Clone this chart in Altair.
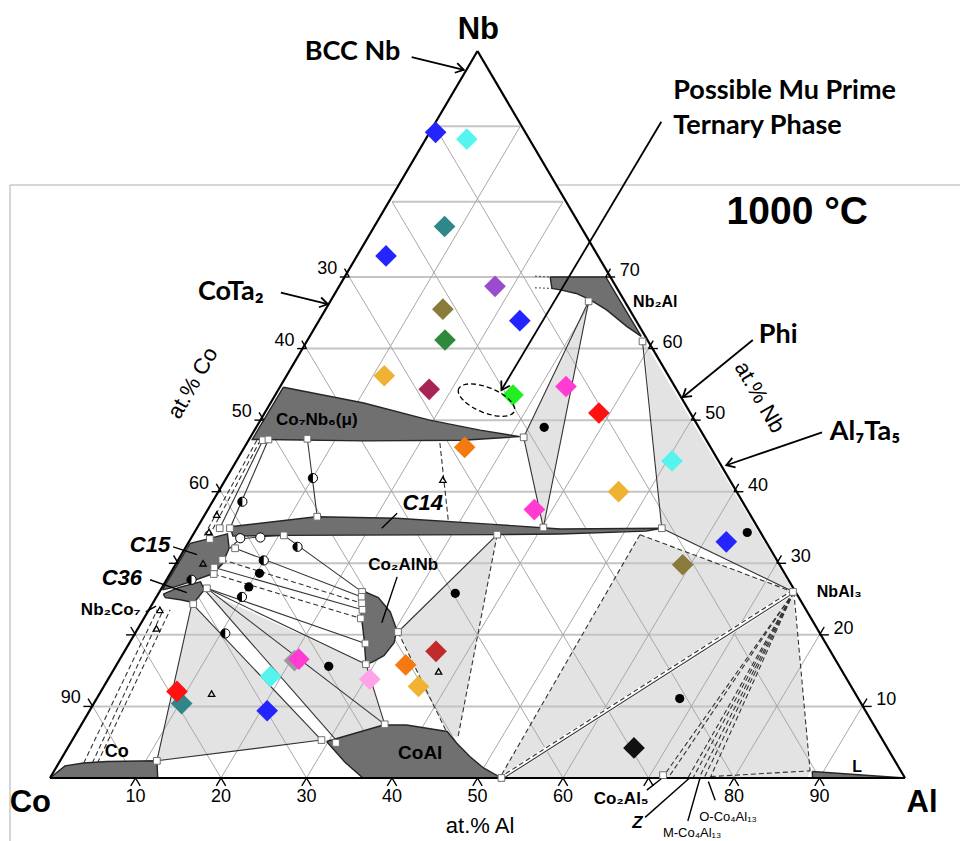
import altair as alt
import pandas as pd

# ------------------------------------------------------------------
# Co-Al-Nb isothermal section, 1000 C.
# Compositions are (at.% Al, at.% Nb); at.% Co is the balance.
# Annotation anchors are in chart coordinates (X = Al + Nb/2, Y = Nb).
# ------------------------------------------------------------------

# single-phase fields (dark)
FIELD_NB2AL = [(23.5, 70.0), (30.0, 70.0), (38.3, 61.7), (35.9, 63.1), (32.4, 65.4),
               (29.8, 66.8), (27.7, 67.7), (25.6, 68.2), (24.5, 68.4)]
FIELD_MU = [(0.0, 54.6), (10.5, 52.4), (19.4, 50.0), (26.0, 48.6), (31.1, 47.7),
            (24.7, 47.2), (13.1, 47.1), (1.3, 47.3), (0.0, 47.3)]
FIELD_C14 = [(3.5, 35.1), (12.9, 36.5), (22.4, 36.3), (34.6, 35.4), (42.3, 34.8), (54.1, 34.9),
             (52.5, 34.5), (42.6, 34.1), (35.3, 34.0), (10.4, 33.9), (4.5, 33.8)]
FIELD_C15 = [(0.0, 26.3), (0.0, 32.8), (1.5, 33.3), (3.7, 34.1), (4.9, 32.1), (5.2, 29.9),
             (4.7, 28.5), (2.7, 27.4), (1.0, 26.6)]
FIELD_C36 = [(0.4, 25.7), (1.7, 26.6), (3.9, 27.4), (4.9, 26.3), (4.6, 24.5), (2.8, 24.9), (0.9, 25.2)]
FIELD_CO2ALNB = [(23.1, 26.3), (25.8, 25.2), (28.2, 23.2), (30.2, 20.7), (30.8, 18.9), (30.5, 17.1),
                 (29.6, 16.2), (29.0, 15.9), (27.1, 19.3), (25.0, 22.8)]
FIELD_CO = [(0.0, 0.0), (0.9, 1.7), (2.9, 2.1), (5.5, 2.3), (11.3, 2.4), (12.6, 0.0)]
FIELD_COAL = [(29.8, 5.1), (35.3, 7.4), (38.0, 7.4), (43.2, 6.5), (45.1, 4.9), (47.6, 3.0),
              (50.0, 1.4), (52.8, 0.0), (36.6, 0.0), (33.4, 2.2)]
FIELD_L = [(88.7, 0.9), (100.0, 0.0), (89.2, 0.0)]

# three-phase triangles (light)
TIE_A = [(4.4, 24.4), (11.3, 2.3), (29.1, 5.3)]
TIE_B = [(5.3, 26.0), (29.0, 15.9), (35.4, 7.5), (31.3, 4.9)]
TIE_C = [(30.5, 20.4), (35.3, 34.0), (44.9, 5.6), (43.2, 6.4)]
TIE_D = [(52.0, 34.0), (73.9, 26.0), (88.4, 1.0), (88.6, 0.0), (52.6, 0.0)]
TIE_E = [(38.9, 61.1), (74.0, 26.0), (54.1, 34.9)]
TIE_F = [(29.7, 66.6), (31.6, 47.6), (40.2, 35.0)]

SOLID_LINES = [((6.4, 47.4), (13.0, 36.5)), ((1.3, 47.2), (2.4, 34.9)), ((1.9, 47.3), (3.6, 34.9)),
               ((10.4, 33.9), (23.5, 26.0)), ((5.6, 32.1), (23.8, 25.3)), ((4.5, 29.4), (24.8, 23.5)),
               ((5.1, 26.5), (27.5, 18.8)), ((5.1, 26.5), (29.0, 15.9)), ((5.1, 26.5), (35.4, 7.5)),
               ((4.4, 24.4), (29.1, 5.3)), ((5.3, 26.0), (31.3, 4.9)), ((11.3, 2.4), (4.4, 24.4)),
               ((11.3, 2.4), (29.1, 5.3)), ((29.0, 15.9), (35.4, 7.5)), ((30.5, 20.4), (35.3, 34.0)),
               ((54.1, 34.9), (74.0, 26.0)), ((38.8, 61.0), (54.1, 34.9)), ((29.7, 66.6), (31.6, 47.6)),
               ((29.7, 66.6), (40.2, 35.0)), ((31.6, 47.6), (40.2, 35.0)), ((53.1, 0.0), (74.0, 25.8))]
DASHED_LINES = [((0.6, 47.2), (1.1, 33.8)), ((1.0, 47.2), (1.7, 33.9)), ((22.2, 46.8), (28.7, 35.8)),
                ((4.9, 30.5), (24.3, 24.4)), ((4.9, 28.5), (25.2, 22.3)), ((30.5, 20.4), (43.2, 6.4)),
                ((35.3, 34.0), (44.9, 5.6)), ((52.0, 34.0), (52.6, 0.0)), ((52.0, 34.0), (73.9, 26.0)),
                ((52.5, 0.0), (73.7, 26.2)), ((74.0, 26.0), (88.4, 1.0)), ((77.2, 0.2), (88.4, 1.0)),
                ((2.9, 2.1), (0.8, 23.5)), ((3.9, 2.1), (1.5, 23.5)), ((4.5, 2.1), (2.3, 23.5))]
NBAL3 = (74.0, 26.0)
NBAL3_TIE_AL = [71.6, 72.3, 74.6, 75.2, 75.9, 76.5, 77.2]
DOTTED_LINES = [((21.7, 70.1), (23.5, 70.0)), ((22.5, 68.5), (24.5, 68.4))]
CURVE_C15_C14 = [(5.0, 32.1), (5.5, 33.4), (7.7, 33.7), (10.4, 33.9)]
WHITE_STRIPS = [((52.8, 0.0), (73.9, 26.0))]

SQUARES = [(29.7, 66.6), (38.8, 61.0), (31.6, 47.6), (1.3, 47.2), (1.9, 47.3), (6.4, 47.4), (13.0, 36.5),
           (40.2, 35.0), (54.1, 34.9), (35.3, 34.0), (10.4, 33.9), (2.4, 34.9), (3.6, 34.9), (2.0, 33.4),
           (5.6, 32.1), (4.9, 30.5), (4.5, 29.4), (4.9, 28.5), (5.1, 26.5), (4.6, 24.3),
           (23.5, 26.0), (23.8, 25.3), (24.3, 24.4), (24.8, 23.5), (25.2, 22.3), (27.5, 18.8), (29.0, 15.9),
           (30.5, 20.4), (11.3, 2.4), (29.1, 5.3), (31.0, 4.9), (35.4, 7.5), (52.8, 0.0), (71.5, 0.4),
           (73.9, 26.0)]
DOTS_FULL = [(33.3, 49.0), (64.4, 34.3), (34.5, 25.8), (68.1, 11.1), (24.8, 15.6), (10.2, 28.6), (9.9, 26.7)]
DOTS_HALF = [(9.8, 41.9), (3.2, 38.6), (9.8, 30.4), (9.8, 25.3), (12.8, 32.3), (10.4, 20.2), (2.7, 27.7)]
DOTS_OPEN = [(5.5, 33.5), (7.8, 33.6)]
TRIANGLES = [(25.1, 41.7), (1.1, 36.8), (1.4, 34.4), (2.9, 30.0), (1.1, 23.5), (2.0, 20.9),
             (13.0, 11.8), (38.0, 14.9)]

# new alloys (coloured diamonds)
DIAMONDS = [(0.5, 89.2, "#2424ff"), (4.6, 88.3, "#56f4ee"), (7.8, 76.7, "#2f8787"), (2.9, 72.8, "#2424ff"),
            (17.7, 68.7, "#9a4ccf"), (13.2, 65.5, "#8a7b3b"), (23.0, 63.9, "#2424ff"), (15.6, 61.2, "#2e8a3a"),
            (11.0, 56.2, "#f0b232"), (17.2, 54.3, "#a82457"), (27.4, 53.5, "#22ee22"), (33.0, 54.7, "#ff3bd4"),
            (38.7, 51.0, "#ff1111"), (25.4, 46.2, "#f47a10"), (50.6, 44.3, "#56f4ee"), (46.5, 40.0, "#f0b232"),
            (37.9, 37.5, "#ff3bd4"), (62.6, 33.0, "#2424ff"), (59.1, 29.8, "#8a7b3b"), (36.3, 17.7, "#c22b2b"),
            (33.7, 15.8, "#f47a10"), (36.7, 12.8, "#f0b232"), (20.4, 16.4, "#9a9a9a"), (20.8, 16.6, "#ff3bd4"),
            (30.5, 13.8, "#ffa3e8"), (18.7, 14.2, "#56f4ee"), (10.2, 10.4, "#2f8787"), (8.8, 12.1, "#ff1111"),
            (20.7, 9.4, "#2424ff"), (66.2, 4.2, "#111111")]

STEPS = [10, 20, 30, 40, 50, 60, 70, 80, 90]
BOTTOM_TICKS = [10, 20, 30, 40, 50, 60, 70, 80, 90]
LEFT_TICKS = [30, 40, 50, 60, 70, 80, 90]      # at.% Co
RIGHT_TICKS = [10, 20, 30, 40, 50, 60, 70]     # at.% Nb
BOTTOM_LABELS = [10, 20, 30, 40, 50, 60, 80, 90]
LEFT_LABELS = [30, 40, 50, 60, 90]
RIGHT_LABELS = [10, 20, 30, 40, 50, 60, 70]

BOLD_LABELS = [("Nb", 50.1, 102.8, 31), ("Co", -2.3, -3.5, 31), ("Al", 102.0, -3.5, 31),
               ("1000 °C", 87.4, 78.6, 39), ("Co₇Nb₆(μ)", 31.2, 50.0, 17), ("Nb₂Al", 70.8, 66.5, 16),
               ("NbAl₃", 92.3, 26.0, 16), ("Co₂AlNb", 41.3, 29.8, 17), ("CoAl", 43.3, 3.5, 19),
               ("Co", 7.8, 3.6, 18), ("L", 94.4, 1.5, 16), ("Nb₂Co₇", 7.1, 23.5, 17), ("Co₂Al₅", 66.8, -2.9, 17)]
ITALIC_LABELS = [("C14", 43.6, 38.4, 22), ("C15", 11.7, 32.6, 22), ("C36", 8.4, 27.9, 22), ("Z", 68.7, -6.3, 17)]
CALLOUTS = [("BCC Nb", 29.8, 99.9, 27), ("CoTa₂", 17.3, 67.9, 27), ("Possible Mu Prime", 72.9, 94.7, 27),
            ("Ternary Phase", 72.9, 90.0, 27), ("Phi", 82.9, 61.9, 27), ("Al₇Ta₅", 91.2, 48.3, 27)]
AXIS_TITLES = [("at.% Co", 16.7, 55.2, 22, 300), ("at.% Nb", 83.0, 53.2, 22, 60), ("at.% Al", 50.3, -6.7, 22, 0)]
SMALL_LABELS = [("M-Co₄Al₁₃", 75.1, -7.7, 13), ("O-Co₄Al₁₃", 79.3, -5.5, 13)]

ARROWS = [((42.3, 99.2), (48.4, 97.5), 14), ((27.0, 67.8), (32.5, 66.2), 13),
          ((71.5, 90.6), (52.8, 54.2), 121), ((82.2, 61.2), (74.0, 53.2), 141),
          ((90.3, 48.3), (79.1, 43.7), 161)]
LEADERS = [((38.8, 34.9), (40.6, 37.0)), ((14.4, 32.3), (17.2, 31.2)), ((11.7, 27.7), (16.0, 25.9)),
           ((11.2, 23.2), (12.4, 24.0)), ((40.6, 28.1), (38.8, 21.7)), ((69.8, -1.7), (71.5, -0.1)),
           ((69.6, -5.5), (74.9, 0.1)), ((74.6, -6.0), (76.0, -0.1)), ((77.8, -3.1), (77.0, -0.5))]
MU_PRIME_ELLIPSE = [(51.05, 52.8)]

TRIANGLE = [(0.0, 0.0), (100.0, 0.0), (0.0, 100.0)]

# ------------------------------------------------------------------
def P(al, nb):
    return al + nb / 2.0, nb


XS = alt.Scale(domain=[0, 100], range=[50, 905], nice=False, zero=False)
YS = alt.Scale(domain=[0, 70, 100], range=[778, 277, 51], nice=False, zero=False)


def enc_xy():
    return dict(x=alt.X("X:Q", scale=XS, axis=None), y=alt.Y("Y:Q", scale=YS, axis=None))


def poly_df(fields):
    rows = []
    for name, pts in fields.items():
        ring = list(pts) + [pts[0]]
        for i, (al, nb) in enumerate(ring):
            X, Y = P(al, nb)
            rows.append({"name": name, "i": i, "X": X, "Y": Y})
    return pd.DataFrame(rows)


def seg_df(segs, comp=True):
    rows = []
    for a, b in segs:
        x1, y1 = P(*a) if comp else a
        x2, y2 = P(*b) if comp else b
        rows.append({"X": x1, "Y": y1, "X2": x2, "Y2": y2})
    return pd.DataFrame(rows)


def pt_df(pts, comp=True):
    rows = []
    for p in pts:
        X, Y = P(p[0], p[1]) if comp else (p[0], p[1])
        row = {"X": X, "Y": Y}
        if len(p) > 2:
            row["c"] = p[2]
        rows.append(row)
    return pd.DataFrame(rows)


def polygons(fields, **mk):
    return alt.Chart(poly_df(fields)).mark_line(filled=True, **mk).encode(
        order="i:Q", detail="name:N", **enc_xy())


def segments(segs, comp=True, **mk):
    return alt.Chart(seg_df(segs, comp)).mark_rule(**mk).encode(x2="X2:Q", y2="Y2:Q", **enc_xy())


def points(pts, comp=True, **mk):
    return alt.Chart(pt_df(pts, comp)).mark_point(opacity=1, **mk).encode(**enc_xy())


def texts(items, font, weight="bold", style="normal", align="center", **mk):
    df = pd.DataFrame([{"t": it[0], "X": it[1], "Y": it[2], "fs": it[3]} for it in items])
    return alt.Chart(df).mark_text(font=font, fontWeight=weight, fontStyle=style, align=align,
                                   baseline="middle", color="black", **mk).encode(
        text="t:N", size=alt.Size("fs:Q", scale=None), **enc_xy())


# grid
grid_h = [((0, k), (100 - k, k)) for k in STEPS]
grid_al = [((k, 0), (k, 100 - k)) for k in STEPS]
grid_co = [((100 - c, 0), (0, 100 - c)) for c in STEPS]
edges = [(TRIANGLE[0], TRIANGLE[1]), (TRIANGLE[1], TRIANGLE[2]), (TRIANGLE[2], TRIANGLE[0])]

T = 1.1
ticks = []
for v in BOTTOM_TICKS:
    ticks += [((v, 0), (v, -T)), ((v, 0), (v + T, -T))]
for c in LEFT_TICKS:
    n = 100 - c
    ticks += [((0, n), (-T, n)), ((0, n), (-T, n + T))]
for n in RIGHT_TICKS:
    ticks += [((100 - n, n), (100 - n + T, n)), ((100 - n, n), (100 - n, n + T))]

bundle = [(NBAL3, (a, 0.0)) for a in NBAL3_TIE_AL]
curve = list(zip(CURVE_C15_C14[:-1], CURVE_C15_C14[1:]))

# tick labels
bl = [(str(v), v, -2.7, 18) for v in BOTTOM_LABELS]
ll = [(str(c),) + P(0, 100 - c) + (18,) for c in LEFT_LABELS]
rl = [(str(n),) + P(100 - n, n) + (18,) for n in RIGHT_LABELS]

HALF_PATH = "M0,-1A1,1,0,0,0,0,1Z"
CHEVRON = "M-1,-0.62L0,0L-1,0.62"
ELLIPSE = "M-1,0A1,0.42,0,1,0,1,0A1,0.42,0,1,0,-1,0Z"

one = pd.DataFrame({"a": [0]})
frame_h = alt.Chart(one).mark_rule(color="#c8c8c8", strokeWidth=1.5).encode(
    x=alt.value(10), x2=alt.value(960), y=alt.value(185))
frame_v = alt.Chart(one).mark_rule(color="#c8c8c8", strokeWidth=1.5).encode(
    x=alt.value(10), y=alt.value(185), y2=alt.value(841))

arrow_lines = [(a, b) for a, b, _ in ARROWS]
head_df = pd.DataFrame([{"X": b[0], "Y": b[1], "ang": ang} for a, b, ang in ARROWS])
heads = alt.Chart(head_df).mark_point(shape=CHEVRON, filled=False, color="black", strokeWidth=1.8,
                                      size=260, opacity=1).encode(
    angle=alt.Angle("ang:Q", scale=None), **enc_xy())

titles_df = pd.DataFrame([{"t": t, "X": x, "Y": y, "fs": fs, "ang": a} for t, x, y, fs, a in AXIS_TITLES])
titles = alt.Chart(titles_df).mark_text(font="Liberation Sans", align="center", baseline="middle",
                                        color="black").encode(
    text="t:N", size=alt.Size("fs:Q", scale=None), angle=alt.Angle("ang:Q", scale=None), **enc_xy())

diam = points(DIAMONDS, shape="diamond", filled=True, size=470, strokeWidth=0).encode(
    color=alt.Color("c:N", scale=None))

layers = [
    frame_h, frame_v,
    polygons({"tri": TRIANGLE}, fill="white"),
    polygons({"a": TIE_A, "b": TIE_B, "c": TIE_C, "d": TIE_D, "e": TIE_E, "f": TIE_F}, fill="#e3e3e3"),
    segments(grid_h, color="#c4c4c4", strokeWidth=2),
    segments(grid_al + grid_co, color="#a8a8a8", strokeWidth=1),
    segments(WHITE_STRIPS, color="white", strokeWidth=5),
    segments(SOLID_LINES + curve, color="#333333", strokeWidth=1.1),
    segments(DASHED_LINES + bundle, color="#333333", strokeWidth=1.1, strokeDash=[5, 3]),
    segments(DOTTED_LINES, color="#444444", strokeWidth=1.3, strokeDash=[1.5, 2.5]),
    polygons({"nb2al": FIELD_NB2AL, "mu": FIELD_MU, "c14": FIELD_C14, "c15": FIELD_C15, "c36": FIELD_C36,
              "co2alnb": FIELD_CO2ALNB, "co": FIELD_CO, "coal": FIELD_COAL, "l": FIELD_L},
             fill="#707070", stroke="#262626", strokeWidth=1.4),
    segments(edges, color="black", strokeWidth=2.2),
    segments(ticks, color="black", strokeWidth=1.4),
    points(SQUARES, shape="square", filled=True, fill="white", stroke="#707070", strokeWidth=1, size=45),
    points(DOTS_FULL, shape="circle", filled=True, color="black", size=85),
    points(DOTS_HALF, shape="circle", filled=True, fill="white", stroke="black", strokeWidth=1, size=85),
    points(DOTS_HALF, shape=HALF_PATH, filled=True, color="black", size=85),
    points(DOTS_OPEN, shape="circle", filled=True, fill="white", stroke="black", strokeWidth=1, size=85),
    points(TRIANGLES, shape="triangle-up", filled=False, color="black", strokeWidth=1.3, size=40),
    diam,
    points(MU_PRIME_ELLIPSE, comp=False, shape=ELLIPSE, filled=False, color="black", strokeWidth=1.3,
           strokeDash=[5, 3], size=3600, angle=22),
    segments(arrow_lines, comp=False, color="black", strokeWidth=1.8),
    heads,
    segments(LEADERS, comp=False, color="black", strokeWidth=1.4),
    texts(BOLD_LABELS, "Liberation Sans"),
    texts(ITALIC_LABELS, "Liberation Sans", style="italic"),
    texts(CALLOUTS, "Lato", align="left"),
    texts(SMALL_LABELS, "Liberation Sans", weight="normal"),
    texts(bl, "Liberation Sans", weight="normal"),
    texts(ll, "Liberation Sans", weight="normal", align="right", dx=-12, dy=-8),
    texts(rl, "Liberation Sans", weight="normal", align="left", dx=14, dy=-6),
    titles,
]

chart = alt.layer(*layers).properties(
    width=960, height=841, padding=0, background="white",
    autosize=alt.AutoSizeParams(type="none"),
).configure_view(strokeWidth=0)

chart.save("out.html", embed_options={"renderer": "svg", "actions": False})
